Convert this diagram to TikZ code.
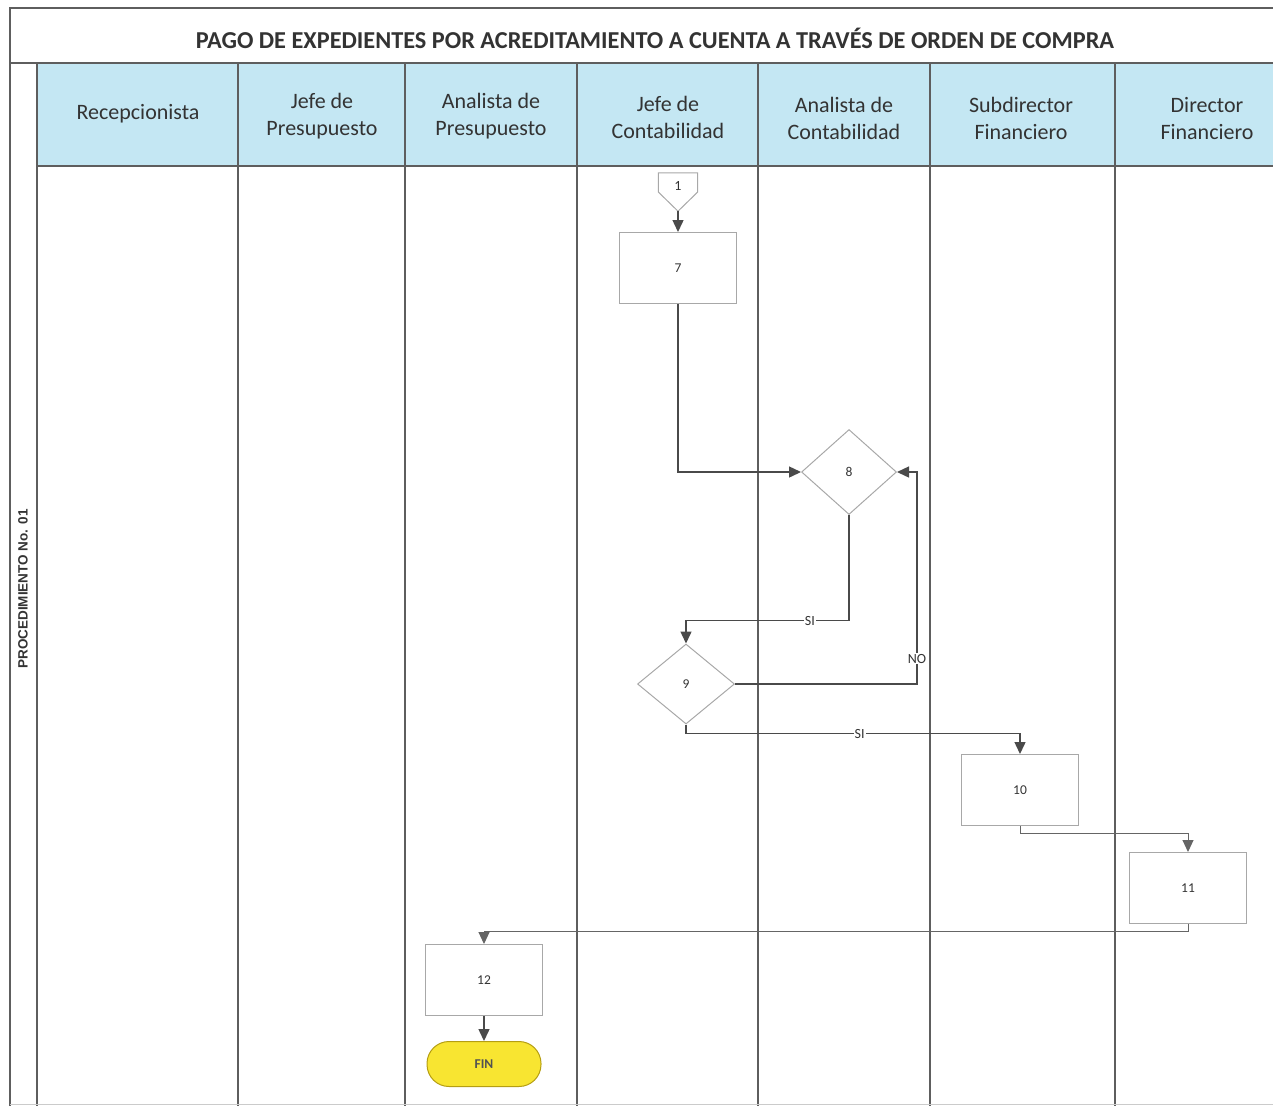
\documentclass[tikz,border=0pt]{standalone}
\usepackage{fontspec}
\setmainfont{Carlito}
\newfontfamily\arialfont{Liberation Sans}
\usetikzlibrary{shapes.geometric,arrows.meta,calc}
\definecolor{lane}{HTML}{5E5E5E}
\definecolor{hdrblue}{HTML}{C4E7F3}
\definecolor{boxgray}{HTML}{A8A8A8}
\definecolor{conncol}{HTML}{4A4A4A}
\definecolor{hdrtext}{HTML}{333333}
\definecolor{finfill}{HTML}{F8E531}
\definecolor{findraw}{HTML}{B59E12}
\tikzset{
  laneline/.style={draw=lane, line width=1.3pt},
  hdr/.style={align=center, font=\fontsize{22}{27}\selectfont, text=hdrtext, inner sep=0pt},
  procbox/.style={rectangle, draw=boxgray, line width=1pt, minimum width=117pt, minimum height=71pt, inner sep=0pt, font=\fontsize{13.5}{15}\selectfont, text=hdrtext},
  decbox/.style={diamond, draw=boxgray, line width=1pt, inner sep=0pt, font=\fontsize{13.5}{15}\selectfont, text=hdrtext},
  offconn/.style={rectangle, minimum width=39pt, minimum height=38pt, inner sep=0pt},
  finbox/.style={rectangle, rounded corners=22pt, draw=findraw, fill=finfill, line width=1pt, minimum width=114pt, minimum height=45pt, inner sep=0pt, font=\bfseries\fontsize{13.5}{15}\selectfont, text=hdrtext!85},
  arr/.style={draw=conncol, line width=1.4pt, -{Triangle[length=12pt,width=11pt]}},
  thinarr/.style={draw=conncol!85, line width=1pt, -{Triangle[length=12pt,width=11pt]}},
  lbl/.style={fill=white, inner sep=1pt, font=\fontsize{14}{16}\selectfont, text=hdrtext},
}
\begin{document}
\begin{tikzpicture}[x=1pt,y=-1pt]
\useasboundingbox (0,0) rectangle (1273,1106);
% header band
\fill[hdrblue] (37,64) rectangle (1273,166);
% frame
\draw[laneline] (10,1106) -- (10,8) -- (1273,8);
\draw[laneline] (10,63) -- (1273,63);
\draw[laneline] (37,166) -- (1273,166);
\foreach \x in {37,238,405,577,758,930,1115} {
  \draw[laneline] (\x,64) -- (\x,1106);
}
\draw[boxgray!60, line width=1pt] (10,1104) -- (1273,1104);
% title
\node[font=\bfseries\fontsize{24.3}{28}\selectfont, text=hdrtext] (title) at (655,38) {PAGO DE EXPEDIENTES POR ACREDITAMIENTO A CUENTA A TRAVÉS DE ORDEN DE COMPRA};
% lane headers
\node[hdr] (h1) at (138,114) {Recepcionista};
\node[hdr] (h2) at (322,116) {Jefe de\\Presupuesto};
\node[hdr] (h3) at (491,116) {Analista de\\Presupuesto};
\node[hdr] (h4) at (668,117) {Jefe de\\Contabilidad};
\node[hdr] (h5) at (844,118) {Analista de\\Contabilidad};
\node[hdr] (h6) at (1021,118) {Subdirector\\Financiero};
\node[hdr] (h7) at (1207,119) {Director\\Financiero};
% vertical label
\node[rotate=90, font=\arialfont\bfseries\fontsize{13.5}{15}\selectfont, text=hdrtext] (proc) at (23,589) {PROCEDIMIENTO No. 01};
% flow nodes
\node[offconn, label={[font=\fontsize{14}{16}\selectfont, text=hdrtext, yshift=6pt]center:1}] (c1) at (678,192) {};
\draw[draw=boxgray, line width=1pt] (c1.north west) -- (c1.north east) -- ($(c1.east)$) -- (c1.south) -- (c1.west) -- cycle;
\node[procbox] (n7) at (678,268) {7};
\node[decbox, minimum width=95pt, minimum height=85pt] (d8) at (849,472) {8};
\node[decbox, minimum width=97pt, minimum height=80pt] (d9) at (686,684) {9};
\node[procbox] (n10) at (1020,790) {10};
\node[procbox] (n11) at (1188,888) {11};
\node[procbox] (n12) at (484,980) {12};
\node[finbox] (fin) at (484,1064) {FIN};
% connectors
\draw[arr] (c1.south) -- (n7.north);
\draw[arr] (n7.south) |- (d8.west);
\draw[arr] (d8.south) |- node[lbl, pos=0.62] {SI} ($(d9.north)+(0,-23)$) -- (d9.north);
\draw[arr] (d9.east) -| node[lbl, pos=0.56] {NO} ($(d8.east)+(20,0)$) -- (d8.east);
\draw[arr] (d9.south) -- ++(0,9) -| node[lbl, pos=0.26] {SI} (n10.north);
\draw[thinarr] (n10.south) -- ++(0,7) -| (n11.north);
\draw[thinarr] (n11.south) -- ++(0,7) -| (n12.north);
\draw[arr] (n12.south) -- (fin.north);
\end{tikzpicture}
\end{document}
